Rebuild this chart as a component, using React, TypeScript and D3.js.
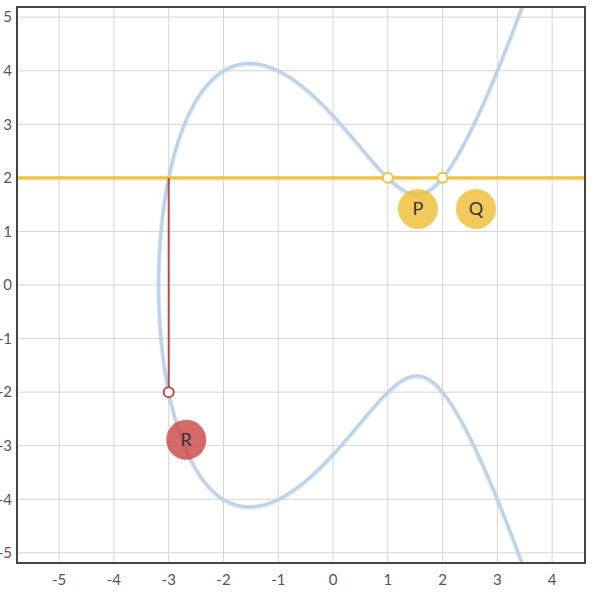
import { useEffect, useRef } from 'react'
import * as d3 from 'd3'

// curve y^2 = x^3 + a*x + b
const curveA = -7
const curveB = 10

const xTicks = [-5, -4, -3, -2, -1, 0, 1, 2, 3, 4]
const yTicks = [-5, -4, -3, -2, -1, 0, 1, 2, 3, 4, 5]

const lineY = 2
const linePoints = [
  { x: 1, y: 2 },
  { x: 2, y: 2 },
]
const reflectFrom = { x: -3, y: 2 }
const reflectTo = { x: -3, y: -2 }

const labels = [
  { name: 'P', x: 1.55, y: 1.42, kind: 'line' },
  { name: 'Q', x: 2.61, y: 1.42, kind: 'line' },
  { name: 'R', x: -2.68, y: -2.89, kind: 'result' },
]

export default function App() {
  const svgRef = useRef<SVGSVGElement>(null)
  const width = 594
  const height = 601

  useEffect(() => {
    if (!svgRef.current) return
    const svg = d3.select(svgRef.current)
    svg.selectAll('*').remove()

    const margin = { top: 7, right: 9, bottom: 38, left: 17 }
    const x = d3.scaleLinear().domain([-5.77, 4.6]).range([margin.left, width - margin.right])
    const y = d3.scaleLinear().domain([-5.19, 5.19]).range([height - margin.bottom, margin.top])

    const font = '"Source Sans Pro", Lato, "Noto Sans", sans-serif'

    svg.append('defs').append('clipPath').attr('id', 'plot-clip')
      .append('rect')
      .attr('x', margin.left).attr('y', margin.top)
      .attr('width', width - margin.left - margin.right)
      .attr('height', height - margin.top - margin.bottom)

    // grid
    const grid = svg.append('g')
    grid.selectAll('.vx').data(xTicks).enter().append('line')
      .attr('x1', d => x(d)).attr('x2', d => x(d))
      .attr('y1', margin.top).attr('y2', height - margin.bottom)
      .attr('stroke', '#d4d4d4').attr('stroke-width', 1)
    grid.selectAll('.hy').data(yTicks).enter().append('line')
      .attr('y1', d => y(d)).attr('y2', d => y(d))
      .attr('x1', margin.left).attr('x2', width - margin.right)
      .attr('stroke', '#d4d4d4').attr('stroke-width', 1)

    // tick labels
    svg.selectAll('.xl').data(xTicks).enter().append('text')
      .attr('x', d => x(d)).attr('y', height - margin.bottom + 22)
      .attr('text-anchor', 'middle')
      .style('font-family', font).style('font-size', '15px').style('fill', '#555')
      .text(d => d)
    svg.selectAll('.yl').data(yTicks).enter().append('text')
      .attr('x', 12).attr('y', d => y(d)).attr('dy', '0.35em')
      .attr('text-anchor', 'end')
      .style('font-family', font).style('font-size', '15px').style('fill', '#555')
      .text(d => d)

    const plot = svg.append('g').attr('clip-path', 'url(#plot-clip)')

    // find real root of x^3 + a x + b
    const f = (t: number) => t * t * t + curveA * t + curveB
    let root = -3
    for (let i = 0; i < 50; i++) root -= f(root) / (3 * root * root + curveA)

    const xMax = 4.6
    const n = 600
    const upper: [number, number][] = []
    for (let i = 0; i <= n; i++) {
      const s = i / n
      const t = root + (xMax - root) * s * s
      upper.push([t, Math.sqrt(Math.max(0, f(t)))])
    }
    const lower = upper.slice().reverse().map(([t, v]) => [t, -v] as [number, number])
    const pts = lower.concat(upper.slice(1))

    const line = d3.line<[number, number]>().x(d => x(d[0])).y(d => y(d[1]))

    plot.append('path').attr('d', line(pts)).attr('fill', 'none')
      .attr('stroke', '#9aa8b4').attr('stroke-opacity', 0.25).attr('stroke-width', 4.5)
      .attr('transform', 'translate(0,1)')
    plot.append('path').attr('d', line(pts)).attr('fill', 'none')
      .attr('stroke', '#b7d4ec').attr('stroke-width', 3)

    // horizontal line through P and Q
    plot.append('line')
      .attr('x1', margin.left).attr('x2', width - margin.right)
      .attr('y1', y(lineY) + 1.5).attr('y2', y(lineY) + 1.5)
      .attr('stroke', '#e8d8a8').attr('stroke-opacity', 0.6).attr('stroke-width', 3)
    plot.append('line')
      .attr('x1', margin.left).attr('x2', width - margin.right)
      .attr('y1', y(lineY)).attr('y2', y(lineY))
      .attr('stroke', '#f0c13e').attr('stroke-width', 3)

    // reflection line
    plot.append('line')
      .attr('x1', x(reflectFrom.x)).attr('x2', x(reflectTo.x))
      .attr('y1', y(reflectFrom.y)).attr('y2', y(reflectTo.y))
      .attr('stroke', '#b94a48').attr('stroke-width', 2)

    // points
    plot.selectAll('.pt').data(linePoints).enter().append('circle')
      .attr('cx', d => x(d.x)).attr('cy', d => y(d.y)).attr('r', 5)
      .attr('fill', '#fff').attr('stroke', '#f0c13e').attr('stroke-width', 2)
    plot.append('circle')
      .attr('cx', x(reflectTo.x)).attr('cy', y(reflectTo.y)).attr('r', 5)
      .attr('fill', '#fff').attr('stroke', '#b94a48').attr('stroke-width', 2)

    // labels
    const lab = plot.selectAll('.lab').data(labels).enter().append('g')
      .attr('transform', d => `translate(${x(d.x)},${y(d.y)})`)
    lab.append('circle').attr('r', 20)
      .attr('fill', d => d.kind === 'line' ? '#f0c13e' : '#cc4444')
      .attr('fill-opacity', d => d.kind === 'line' ? 0.85 : 0.8)
    lab.append('text').attr('text-anchor', 'middle').attr('dy', '0.35em')
      .style('font-family', font).style('font-size', '18px').style('fill', '#333')
      .text(d => d.name)

    // frame
    svg.append('rect')
      .attr('x', margin.left).attr('y', margin.top)
      .attr('width', width - margin.left - margin.right)
      .attr('height', height - margin.top - margin.bottom)
      .attr('fill', 'none').attr('stroke', '#444').attr('stroke-width', 2)
  }, [])

  return (
    <svg ref={svgRef} width={width} height={height}
      style={{ position: 'absolute', left: 0, top: 0, background: '#fff' }} />
  )
}
